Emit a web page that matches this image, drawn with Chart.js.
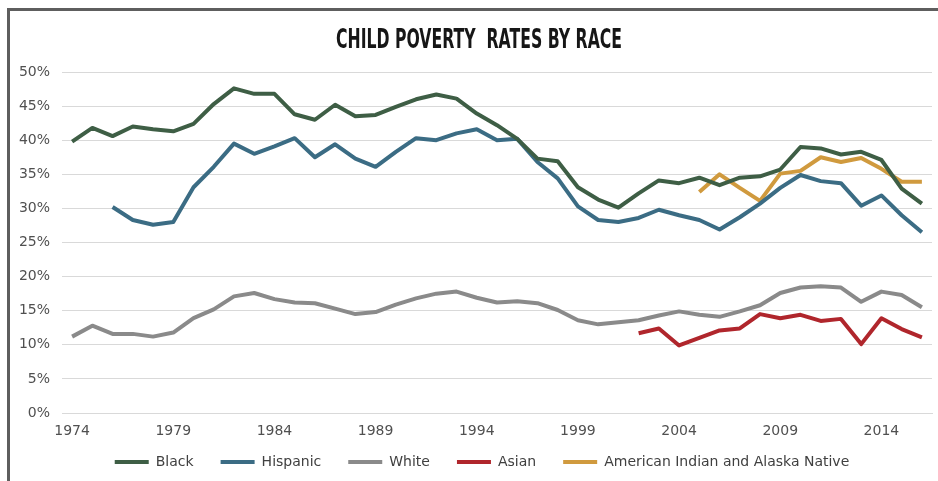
<!DOCTYPE html>
<html>
<head>
<meta charset="utf-8">
<script src="https://cdn.jsdelivr.net/npm/chart.js@4"></script>
<style>
  html, body { margin: 0; padding: 0; background: #ffffff; overflow: hidden; }
  #frame { position: absolute; left: 7px; top: 8px; width: 940px; height: 480px;
           border-left: 3px solid #5e5e5e; border-top: 3px solid #5e5e5e; }
  #wrap { position: absolute; left: 0; top: 0; width: 938px; height: 481px; }
</style>
</head>
<body>
<div id="frame"></div>
<div id="wrap"><canvas id="c" width="938" height="481"></canvas></div>
<script>
const years = ["1974","1975","1976","1977","1978","1979","1980","1981","1982","1983","1984","1985","1986","1987","1988","1989","1990","1991","1992","1993","1994","1995","1996","1997","1998","1999","2000","2001","2002","2003","2004","2005","2006","2007","2008","2009","2010","2011","2012","2013","2014","2015","2016"];

const black = [39.8,41.8,40.6,42.0,41.6,41.3,42.4,45.3,47.6,46.8,46.8,43.8,43.0,45.2,43.5,43.7,44.9,46.0,46.7,46.1,43.9,42.2,40.2,37.3,36.9,33.1,31.3,30.1,32.2,34.1,33.7,34.5,33.4,34.5,34.7,35.7,39.0,38.8,37.9,38.3,37.1,32.9,30.7];

const hispanic = [null,null,30.2,28.3,27.6,28.0,33.1,36.1,39.5,38.0,39.1,40.3,37.5,39.4,37.3,36.1,38.3,40.3,40.0,41.0,41.6,40.0,40.2,36.8,34.4,30.3,28.3,28.0,28.6,29.8,29.0,28.3,26.9,28.7,30.7,33.0,34.9,34.0,33.7,30.4,31.9,29.0,26.5];

const white = [11.2,12.8,11.6,11.6,11.2,11.8,13.9,15.2,17.1,17.6,16.7,16.2,16.1,15.3,14.5,14.8,15.9,16.8,17.5,17.8,16.9,16.2,16.4,16.1,15.1,13.6,13.0,13.3,13.6,14.3,14.9,14.4,14.1,14.9,15.8,17.6,18.4,18.6,18.4,16.3,17.8,17.3,15.5];

const asian = [null,null,null,null,null,null,null,null,null,null,null,null,null,null,null,null,null,null,null,null,null,null,null,null,null,null,null,null,11.7,12.4,9.9,11.0,12.1,12.4,14.5,13.9,14.4,13.5,13.8,10.1,13.9,12.3,11.1];

const aian = [null,null,null,null,null,null,null,null,null,null,null,null,null,null,null,null,null,null,null,null,null,null,null,null,null,null,null,null,null,null,null,32.4,35.0,33.0,31.1,35.1,35.5,37.5,36.8,37.4,35.8,33.9,33.9];

const yTicks = [0,5,10,15,20,25,30,35,40,45,50];
const seriesNames = ["Black","Hispanic","White","Asian","American Indian and Alaska Native"];
const titleText = "CHILD POVERTY  RATES BY RACE";

const colors = ["#3e5e45","#3b6c84","#8a8a8a","#b0262c","#d09a3e"];
const seriesData = [black, hispanic, white, asian, aian];

const datasets = seriesNames.map((name, i) => ({
  label: name,
  data: seriesData[i],
  borderColor: colors[i],
  backgroundColor: colors[i],
  borderWidth: 4,
  pointRadius: 0,
  pointHoverRadius: 0,
  tension: 0,
  borderJoinStyle: 'round',
  borderCapStyle: 'butt',
  fill: false
}));

// Condensed title drawn as real canvas text
const condensedTitle = {
  id: 'condensedTitle',
  afterDraw(chart) {
    const ctx = chart.ctx;
    ctx.save();
    ctx.font = "bold 27px 'DejaVu Sans', sans-serif";
    ctx.fillStyle = '#161616';
    ctx.textAlign = 'center';
    ctx.textBaseline = 'alphabetic';
    const w = ctx.measureText(titleText).width;
    const target = 286;
    ctx.translate(479, 48);
    ctx.scale(target / w, 1);
    ctx.fillText(titleText, 0, 0);
    ctx.restore();
  }
};

// give the x tick labels room to draw below their compact layout box,
// and nudge the legend row to the right like the original
const layoutTweaks = {
  id: 'layoutTweaks',
  afterLayout(chart) {
    const x = chart.scales.x;
    x.bottom = x.top + 32;
    x.height = 32;
    const lg = chart.legend;
    if (lg) { lg.left += 16; lg.right += 16; }
  }
};

new Chart(document.getElementById('c'), {
  type: 'line',
  data: { labels: years, datasets: datasets },
  plugins: [condensedTitle, layoutTweaks],
  options: {
    responsive: false,
    animation: false,
    layout: { padding: { left: 0, right: 6, top: 72, bottom: 2 } },
    plugins: {
      tooltip: { enabled: false },
      title: { display: false },
      legend: {
        position: 'bottom',
        labels: {
          color: '#404040',
          font: { family: "'DejaVu Sans', sans-serif", size: 14 },
          boxWidth: 34,
          boxHeight: 4,
          padding: 27,
          generateLabels: function(chart) {
            return chart.data.datasets.map((ds, i) => ({
              text: ds.label,
              fillStyle: ds.borderColor,
              strokeStyle: ds.borderColor,
              lineWidth: 0,
              hidden: false,
              datasetIndex: i,
              fontColor: '#404040'
            }));
          }
        }
      }
    },
    scales: {
      x: {
        type: 'category',
        offset: true,
        afterFit: function(scale) { scale.height = 15; },
        grid: { display: false, drawTicks: false },
        border: { display: true, color: '#d9d9d9', width: 1 },
        ticks: {
          autoSkip: false,
          maxRotation: 0,
          minRotation: 0,
          padding: 10,
          color: '#505050',
          font: { family: "'DejaVu Sans', sans-serif", size: 14 },
          callback: function(value, index) {
            const y = parseInt(years[index], 10);
            return ((y - 1974) % 5 === 0) ? years[index] : '';
          }
        }
      },
      y: {
        min: 0,
        max: 50,
        afterBuildTicks: function(scale) { scale.ticks = yTicks.map(v => ({ value: v })); },
        afterFit: function(scale) { scale.width = 62; },
        grid: { color: '#d9d9d9', lineWidth: 1, drawTicks: false },
        border: { display: false },
        ticks: {
          padding: 12,
          color: '#505050',
          font: { family: "'DejaVu Sans', sans-serif", size: 14 },
          callback: function(v) { return v + '%'; }
        }
      }
    }
  }
});
</script>
</body>
</html>
